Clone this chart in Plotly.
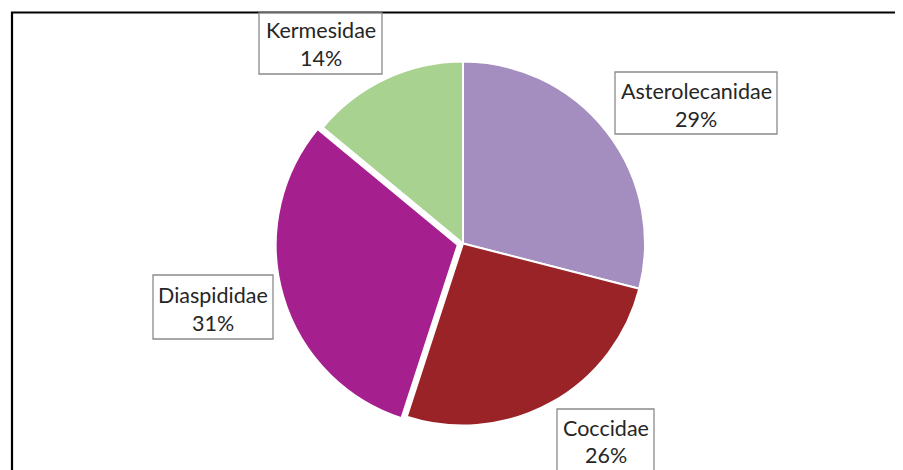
import plotly.graph_objects as go

# the page body adds an 8px margin, so the figure is placed 8px in from the top-left
OFF = 8
W, H = 895, 462

labels = ["Asterolecanidae", "Coccidae", "Diaspididae", "Kermesidae"]
values = [29, 26, 31, 14]
pct_labels = ["29%", "26%", "31%", "14%"]
colors = ["#A48DBF", "#9A2327", "#A51F8E", "#A8D290"]
pulls = [0, 0, 0.03, 0]

# label box geometry in window pixels (x0, x1, y_top, y_bottom, line1_y, line2_y)
boxes = {
    "Asterolecanidae": (615, 777, 72, 134, 91, 119),
    "Coccidae": (557, 654, 409, 490, 428, 455),
    "Diaspididae": (153, 273, 275, 339, 295, 323),
    "Kermesidae": (259, 382, 13, 74, 30, 58),
}

def px(x):
    return (x - OFF) / W

def py(y):
    return 1 - (y - OFF) / H

cx, cy, r = 463, 243.5, 182
half = r * (1 + max(pulls))

fig = go.Figure(go.Pie(
    labels=labels,
    values=values,
    marker=dict(colors=colors, line=dict(color="white", width=2)),
    pull=pulls,
    sort=False,
    direction="clockwise",
    rotation=0,
    textinfo="none",
    hoverinfo="label+percent",
    showlegend=False,
    domain=dict(x=[px(cx - half), px(cx + half)], y=[py(cy + half), py(cy - half)]),
))

shapes = [
    dict(type="rect", xref="paper", yref="paper",
         x0=px(12), x1=1.05, y0=-0.1, y1=py(12.5),
         line=dict(color="black", width=2.2), fillcolor="rgba(0,0,0,0)"),
]
annotations = []
font = dict(family="Lato, Carlito, Calibri, sans-serif", size=21.5, color="#262626")
for lab, pct in zip(labels, pct_labels):
    x0, x1, y0, y1, l1, l2 = boxes[lab]
    shapes.append(dict(type="rect", xref="paper", yref="paper",
                       x0=px(x0), x1=px(x1), y0=py(y1), y1=py(y0),
                       line=dict(color="#8A8A8A", width=1.3), fillcolor="white"))
    xc = px((x0 + x1) / 2)
    annotations.append(dict(x=xc, y=py(l1), xref="paper", yref="paper", text=lab,
                            showarrow=False, xanchor="center", yanchor="middle", font=font))
    annotations.append(dict(x=xc, y=py(l2), xref="paper", yref="paper", text=pct,
                            showarrow=False, xanchor="center", yanchor="middle", font=font))

fig.update_layout(
    width=W, height=H,
    margin=dict(l=0, r=0, t=0, b=0),
    paper_bgcolor="white",
    plot_bgcolor="white",
    shapes=shapes,
    annotations=annotations,
)

fig.write_html("out.html")
